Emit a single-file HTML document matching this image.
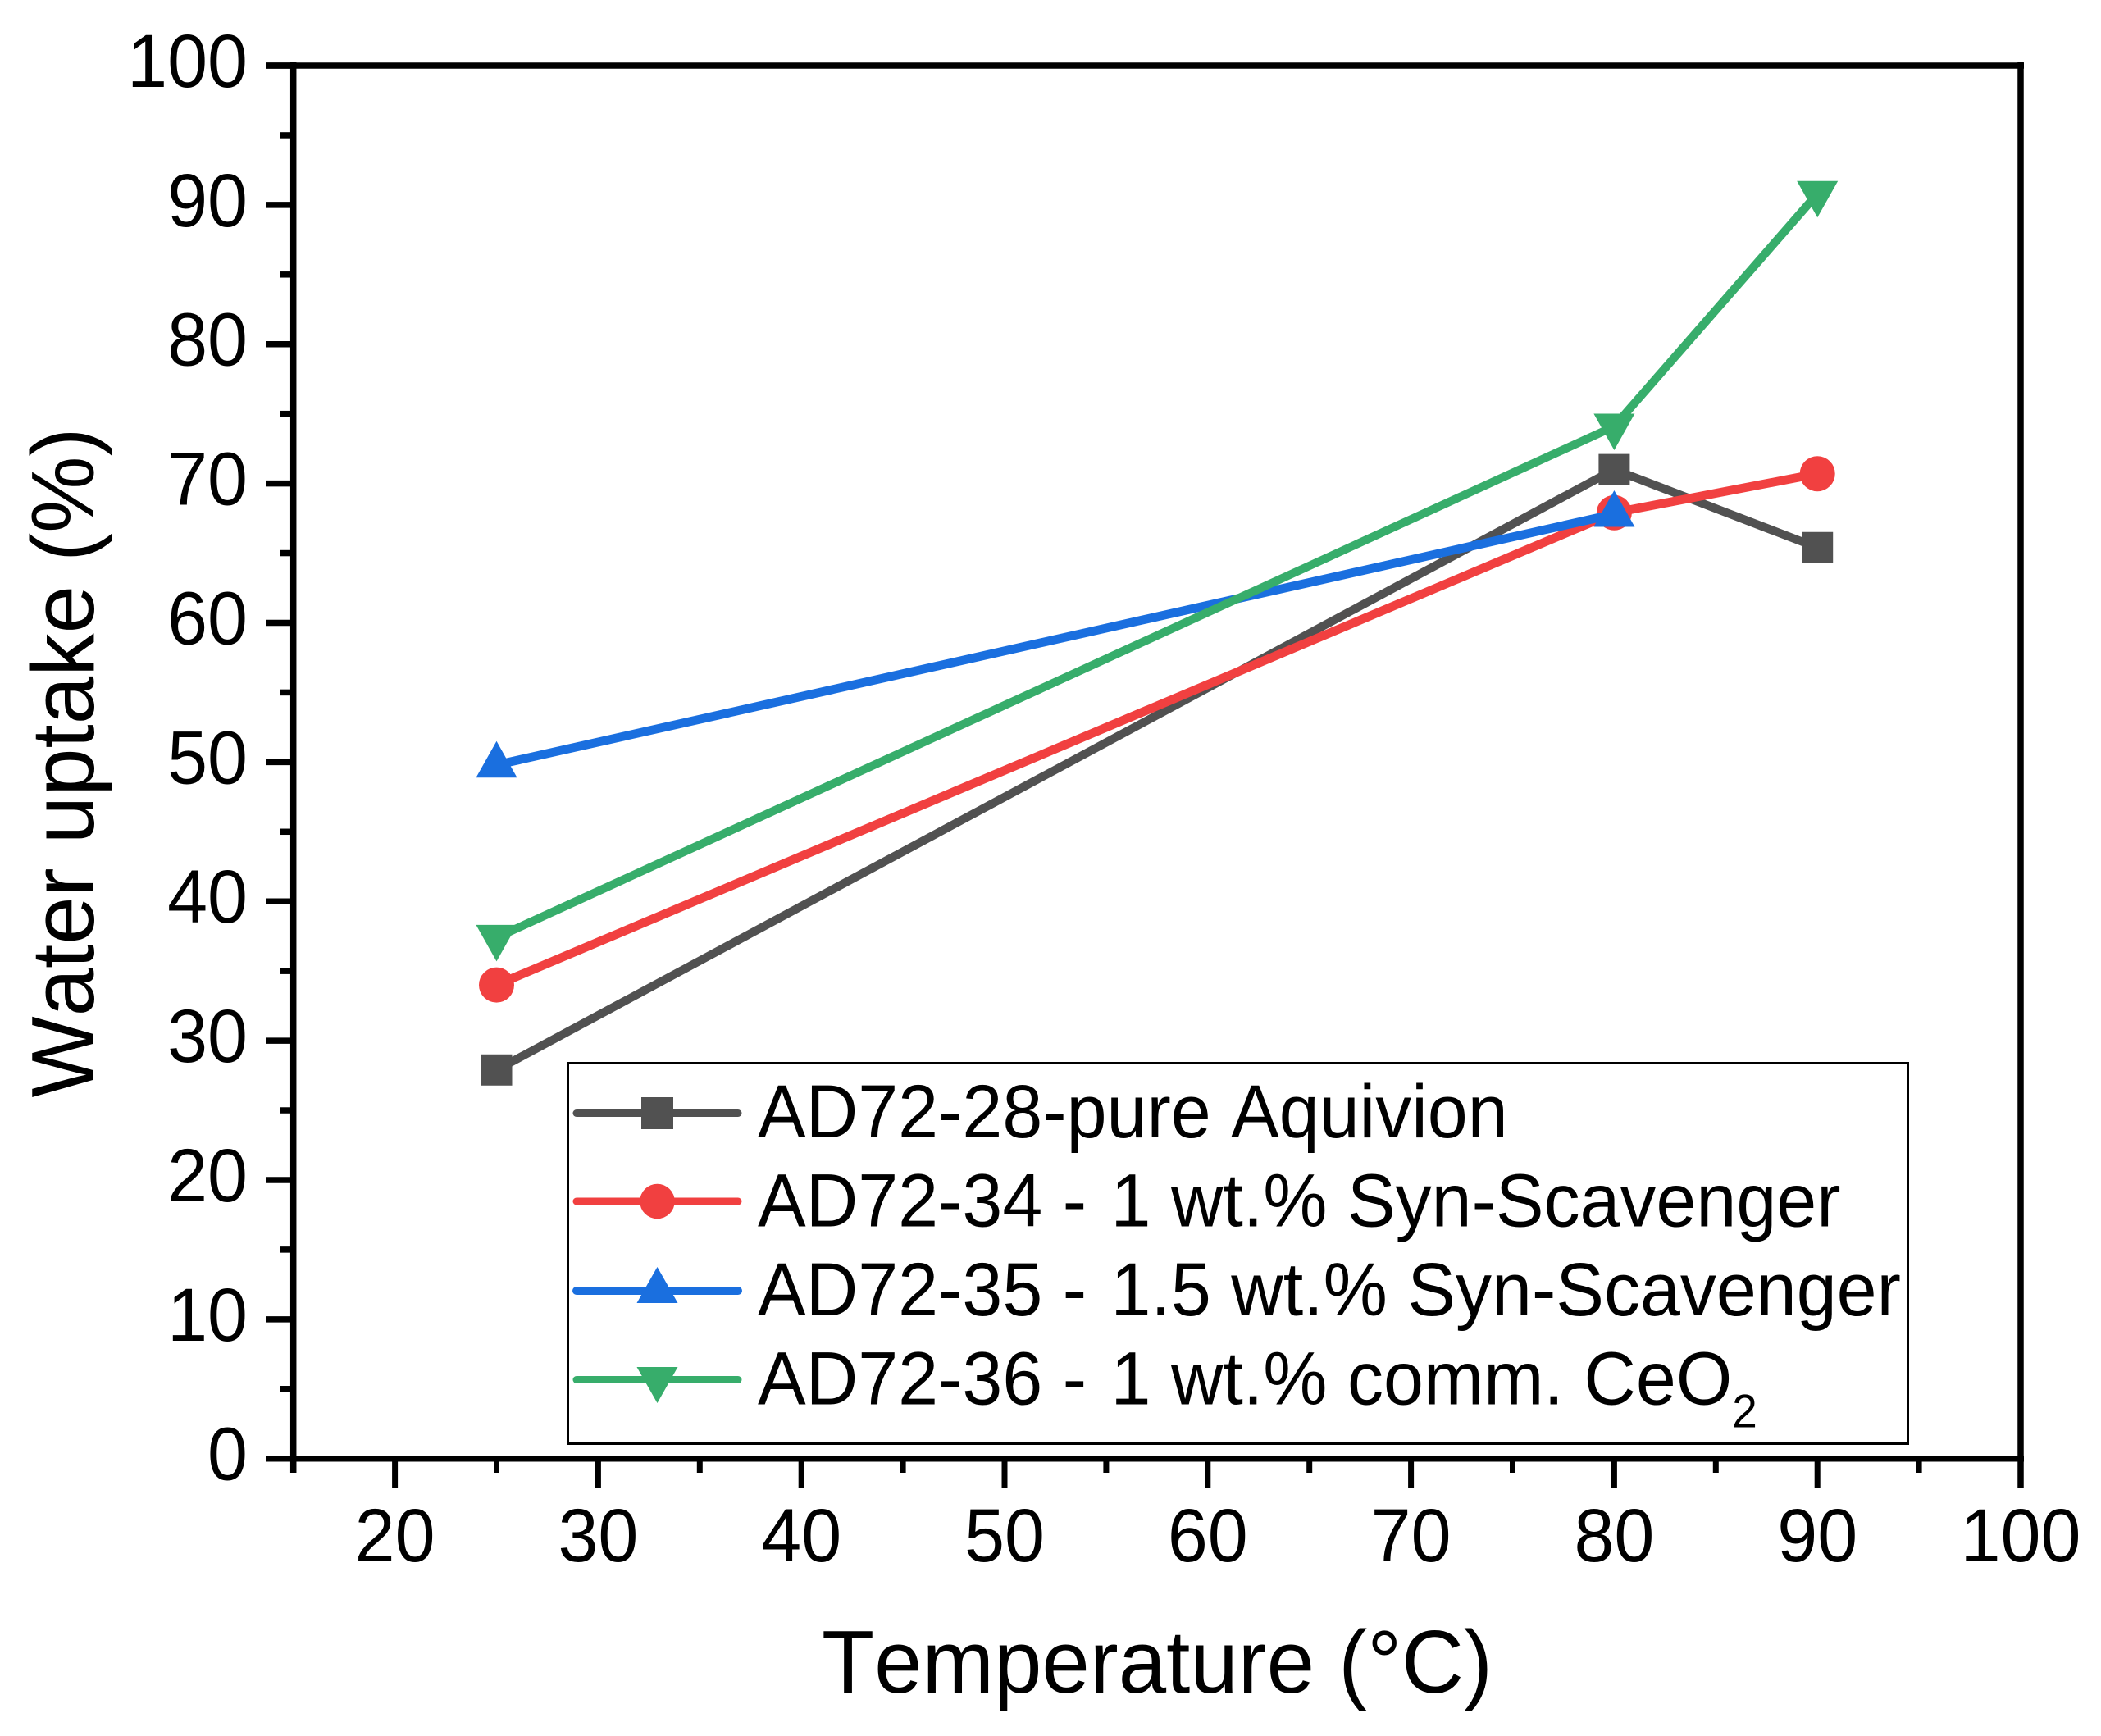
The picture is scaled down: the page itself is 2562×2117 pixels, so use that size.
<!DOCTYPE html>
<html>
<head>
<meta charset="utf-8">
<title>Water uptake vs temperature</title>
<style>
html,body{margin:0;padding:0;background:#fff;width:2562px;height:2117px;overflow:hidden}
svg{display:block}
text{font-family:"Liberation Sans",Arial,sans-serif;fill:#000;font-kerning:none}
</style>
</head>
<body>
<svg id="chart" xmlns="http://www.w3.org/2000/svg" width="2562" height="2117" viewBox="0 0 2562 2117">
  <rect x="0" y="0" width="2562" height="2117" fill="#fff"/>
  <g id="axes"></g>
  <g id="plot"></g>

  <text transform="translate(1411,2064) scale(1,1.03)" font-size="105" text-anchor="middle">Temperature (°C)</text>
  <text transform="translate(114,930) rotate(-90) scale(1,1.03)" font-size="105" text-anchor="middle">Water uptake (%)</text>

  <g>
    <rect x="692.5" y="1296.5" width="1634" height="464" fill="#fff" stroke="#000" stroke-width="3"/>

    <g>
      <line x1="703" y1="1357.5" x2="900" y2="1357.5" stroke="#515151" stroke-width="9" stroke-linecap="round"/>
      <rect x="782" y="1338" width="39" height="39" fill="#515151"/>
      <text transform="translate(924,1387) scale(1,1.04)" font-size="88">AD72-28-pure Aquivion</text>
    </g>
    <g>
      <line x1="703" y1="1465" x2="900" y2="1465" stroke="#F14040" stroke-width="9" stroke-linecap="round"/>
      <circle cx="801.5" cy="1465" r="21.3" fill="#F14040"/>
      <text transform="translate(924,1495.5) scale(1,1.04)" font-size="88">AD72-34 - <tspan dx="5">1 wt.% Syn-Scavenger</tspan></text>
    </g>
    <g>
      <line x1="703" y1="1574" x2="900" y2="1574" stroke="#1A6FDF" stroke-width="10" stroke-linecap="round"/>
      <polygon points="801.5,1545 776.5,1589 826.5,1589" fill="#1A6FDF"/>
      <text transform="translate(924,1604) scale(1,1.04)" font-size="88">AD72-35 - <tspan dx="5">1.5 wt.% Syn-Scavenger</tspan></text>
    </g>
    <g>
      <line x1="703" y1="1682.5" x2="900" y2="1682.5" stroke="#37AD6B" stroke-width="9" stroke-linecap="round"/>
      <polygon points="776.5,1667 826.5,1667 801.5,1711" fill="#37AD6B"/>
      <text transform="translate(924,1712.5) scale(1,1.04)" font-size="88">AD72-36 - <tspan dx="5">1 wt.% comm. CeO</tspan><tspan font-size="55" dy="27">2</tspan></text>
    </g>
  </g>
</svg>

<script>
const xTickValues = [20, 30, 40, 50, 60, 70, 80, 90, 100];
const xMinorValues = [15, 25, 35, 45, 55, 65, 75, 85, 95];
const yTickValues = [0, 10, 20, 30, 40, 50, 60, 70, 80, 90, 100];
const yMinorValues = [5, 15, 25, 35, 45, 55, 65, 75, 85, 95];

const temps28 = [25, 80, 90];
const uptake28 = [27.9, 71.0, 65.4];
const temps34 = [25, 80, 90];
const uptake34 = [34.0, 67.9, 70.7];
const temps35 = [25, 80];
const uptake35 = [49.8, 67.8];
const temps36 = [25, 80, 90];
const uptake36 = [37.4, 74.1, 90.8];

const NS = 'http://www.w3.org/2000/svg';
const axesLayer = document.getElementById('axes');
const plotLayer = document.getElementById('plot');

function xScale(v) { return 481.6 + (v - 20) * 24.78; }
function yScale(v) { return 1778.7 - v * 16.987; }

function make(tag, parent, attrs) {
  const el = document.createElementNS(NS, tag);
  for (const k in attrs) el.setAttribute(k, attrs[k]);
  parent.appendChild(el);
  return el;
}

// Axis frame
const frame = [
  ['top-axis-line', 324, yScale(100), 2468, yScale(100)],
  ['bottom-axis-line', 324, yScale(0), 2468, yScale(0)],
  ['left-axis-line', xScale(15), 76, xScale(15), 1796],
  ['right-axis-line', xScale(100), 76, xScale(100), 1815]
];
frame.forEach(function (f) {
  const el = make('line', axesLayer, {x1: f[1], y1: f[2], x2: f[3], y2: f[4], stroke: '#000', 'stroke-width': 7.5});
  
  
});

// X ticks and labels
xTickValues.forEach(function (v) {
  const t = make('line', axesLayer, {x1: xScale(v), y1: 1780, x2: xScale(v), y2: 1814, stroke: '#000', 'stroke-width': 7});
  
  
  const l = make('text', axesLayer, {transform: 'translate(' + xScale(v) + ',1904) scale(1,1.04)', 'font-size': 88, 'text-anchor': 'middle'});
  l.textContent = String(v);
  
  
});
xMinorValues.forEach(function (v) {
  const t = make('line', axesLayer, {x1: xScale(v), y1: 1780, x2: xScale(v), y2: 1796, stroke: '#000', 'stroke-width': 7});
  
  
});

// Y ticks and labels
yTickValues.forEach(function (v) {
  const t = make('line', axesLayer, {x1: 324, y1: yScale(v), x2: 356, y2: yScale(v), stroke: '#000', 'stroke-width': 7.5});
  
  
  const l = make('text', axesLayer, {transform: 'translate(302,' + (yScale(v) + 26) + ') scale(1,1.04)', 'font-size': 88, 'text-anchor': 'end'});
  l.textContent = String(v);
  
  
});
yMinorValues.forEach(function (v) {
  const t = make('line', axesLayer, {x1: 341, y1: yScale(v), x2: 356, y2: yScale(v), stroke: '#000', 'stroke-width': 7.5});
  
  
});

function linePoints(xs, ys) {
  return xs.map(function (x, i) { return xScale(x) + ',' + yScale(ys[i]); }).join(' ');
}

function drawLine(xs, ys, color, width) {
  return make('polyline', plotLayer, {points: linePoints(xs, ys), fill: 'none', stroke: color, 'stroke-width': width, 'stroke-linejoin': 'round'});
}

function drawMarker(shape, x, y, color) {
  const cx = xScale(x), cy = yScale(y);
  if (shape === 'square') {
    return make('rect', plotLayer, {x: cx - 19, y: cy - 19, width: 38, height: 38, fill: color});
  }
  if (shape === 'circle') {
    return make('circle', plotLayer, {cx: cx, cy: cy, r: 21.5, fill: color});
  }
  if (shape === 'up') {
    return make('polygon', plotLayer, {points: cx + ',' + (cy - 29) + ' ' + (cx - 25) + ',' + (cy + 15.5) + ' ' + (cx + 25) + ',' + (cy + 15.5), fill: color});
  }
  return make('polygon', plotLayer, {points: (cx - 25) + ',' + (cy - 15.5) + ' ' + (cx + 25) + ',' + (cy - 15.5) + ' ' + cx + ',' + (cy + 29), fill: color});
}

// Series AD72-28
const line28 = drawLine(temps28, uptake28, '#515151', 10.3);


temps28.forEach(function (x, i) {
  const m = drawMarker('square', x, uptake28[i], '#515151');
  
  
});

// Series AD72-34
const line34 = drawLine(temps34, uptake34, '#F14040', 10.8);


temps34.forEach(function (x, i) {
  const m = drawMarker('circle', x, uptake34[i], '#F14040');
  
  
});

// Series AD72-35
const line35 = drawLine(temps35, uptake35, '#1A6FDF', 10.8);


temps35.forEach(function (x, i) {
  const m = drawMarker('up', x, uptake35[i], '#1A6FDF');
  
  
});

// Series AD72-36
const line36 = drawLine(temps36, uptake36, '#37AD6B', 10.2);


temps36.forEach(function (x, i) {
  const m = drawMarker('down', x, uptake36[i], '#37AD6B');
  
  
});
</script>
</body>
</html>
